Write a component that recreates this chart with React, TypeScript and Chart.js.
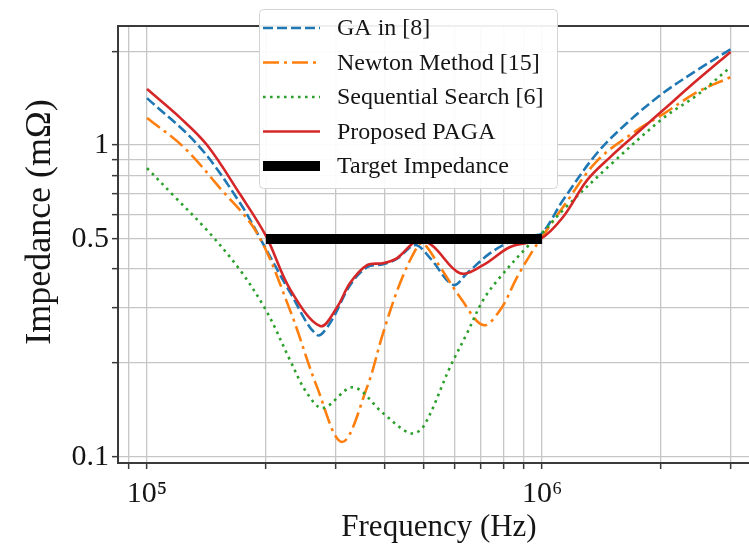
import React, { useEffect, useRef } from 'react';
import { Chart, registerables } from 'chart.js';

Chart.register(...registerables);

// ---- data (frequency in Hz, impedance in mΩ) ----
const gaFreq = [1.0e5, 1.346e5, 1.72e5, 1.955e5, 2.3e5, 2.694e5, 2.906e5, 3.265e5, 3.606e5, 3.958e5, 4.296e5, 4.77e5, 5.206e5, 5.953e5, 6.458e5, 7.386e5, 8.299e5, 9.33e5, 1.0e6, 1.13e6, 1.378e6, 1.671e6, 2.025e6, 2.469e6, 3.0e6];
const gaImp = [1.415, 1.0, 0.652, 0.489, 0.3375, 0.246, 0.2685, 0.355, 0.406, 0.415, 0.432, 0.478, 0.434, 0.356, 0.388, 0.45, 0.489, 0.511, 0.522, 0.666, 0.943, 1.203, 1.469, 1.74, 2.03];

const newtonFreq = [1.0e5, 1.233e5, 1.53e5, 1.899e5, 2.301e5, 2.694e5, 3.117e5, 3.606e5, 3.958e5, 4.371e5, 4.825e5, 5.0e5, 5.518e5, 6.2e5, 7.09e5, 7.829e5, 8.645e5, 9.488e5, 1.0e6, 1.13e6, 1.378e6, 1.74e6, 2.025e6, 2.469e6, 3.0e6];
const newtonImp = [1.221, 0.99, 0.728, 0.522, 0.2955, 0.1673, 0.1115, 0.1673, 0.2493, 0.361, 0.471, 0.485, 0.406, 0.325, 0.2645, 0.2955, 0.377, 0.46, 0.507, 0.633, 0.89, 1.117, 1.257, 1.479, 1.652];

const seqFreq = [1.0e5, 1.164e5, 1.419e5, 1.72e5, 2.013e5, 2.301e5, 2.541e5, 2.79e5, 3.323e5, 3.958e5, 4.633e5, 4.997e5, 5.849e5, 6.458e5, 7.09e5, 7.829e5, 9.163e5, 1.0e6, 1.13e6, 1.487e6, 2.025e6, 2.469e6, 3.0e6];
const seqImp = [0.844, 0.691, 0.533, 0.397, 0.291, 0.2043, 0.16, 0.1433, 0.167, 0.138, 0.1191, 0.1245, 0.194, 0.2493, 0.318, 0.377, 0.471, 0.522, 0.619, 0.863, 1.22, 1.447, 1.78];

const pagaFreq = [1.0e5, 1.212e5, 1.419e5, 1.72e5, 2.0e5, 2.301e5, 2.742e5, 3.027e5, 3.265e5, 3.606e5, 3.958e5, 4.296e5, 4.714e5, 4.911e5, 5.298e5, 6.2e5, 7.09e5, 8.299e5, 9.883e5, 1.13e6, 1.3e6, 1.487e6, 1.74e6, 2.025e6, 2.469e6, 3.0e6];
const pagaImp = [1.512, 1.225, 1.0, 0.695, 0.511, 0.345, 0.2626, 0.302, 0.361, 0.412, 0.418, 0.434, 0.485, 0.496, 0.474, 0.388, 0.412, 0.471, 0.499, 0.588, 0.772, 0.915, 1.093, 1.295, 1.616, 1.99];

const targetFreq = [2.0e5, 1.0e6];
const targetImp = [0.5, 0.5];

const seriesLabels = ['GA in [8]', 'Newton Method [15]', 'Sequential Search [6]', 'Proposed PAGA', 'Target Impedance'];

const xTickValues = [9e4, 1e5, 2e5, 3e5, 4e5, 5e5, 6e5, 7e5, 8e5, 9e5, 1e6, 2e6, 3e6];
const xTickText = [['1e5', '10\u2075'], ['1e6', '10\u2076']];
const yTickValues = [0.1, 0.2, 0.3, 0.4, 0.5, 0.6, 0.7, 0.8, 0.9, 1, 2];
const yTickText = [['0.1', '0.1'], ['0.5', '0.5'], ['1', '1']];

const X_MIN = 84450;
const X_MAX = 3.56e6;
const Y_MIN = 0.0955;
const Y_MAX = 2.41;

const FONT = '"Liberation Serif", "Times New Roman", serif';

function labelFor(table: string[][], v: number): string {
  for (const [k, t] of table) {
    const n = Number(k);
    if (Math.abs(n - v) / n < 1e-6) return t;
  }
  return '';
}

function pts(xs: number[], ys: number[]) {
  return xs.map((x, i) => ({ x, y: ys[i] }));
}

const overlayPlugin = {
  id: 'overlay',
  afterDraw(chart: any) {
    const ctx = chart.ctx as CanvasRenderingContext2D;
    const { left, right, top } = chart.chartArea;
    ctx.save();
    // top spine
    ctx.strokeStyle = '#3a3a3a';
    ctx.lineWidth = 2;
    ctx.setLineDash([]);
    ctx.beginPath();
    ctx.moveTo(left, top);
    ctx.lineTo(right, top);
    ctx.stroke();

    // legend box
    const bx = 259.5, by = 9.5, bw = 298, bh = 179;
    ctx.beginPath();
    (ctx as any).roundRect(bx, by, bw, bh, 4);
    ctx.fillStyle = 'rgba(255,255,255,0.92)';
    ctx.fill();
    ctx.strokeStyle = '#d4d4d4';
    ctx.lineWidth = 1;
    ctx.stroke();

    const rows = [28, 62.5, 97, 131.5, 166];
    chart.data.datasets.forEach((ds: any, i: number) => {
      const y = rows[i];
      ctx.save();
      ctx.strokeStyle = ds.borderColor;
      ctx.lineWidth = ds.borderWidth;
      ctx.lineCap = 'butt';
      ctx.setLineDash(ds.borderDash || []);
      ctx.beginPath();
      ctx.moveTo(263, y);
      ctx.lineTo(320, y);
      ctx.stroke();
      ctx.restore();
      ctx.fillStyle = '#151515';
      ctx.font = '24px ' + FONT;
      ctx.textAlign = 'left';
      ctx.textBaseline = 'middle';
      ctx.fillText(ds.label, 337, y + 1);
    });

    // y-axis title
    ctx.translate(41, 222);
    ctx.rotate(-Math.PI / 2);
    ctx.font = '36px ' + FONT;
    ctx.fillStyle = '#151515';
    ctx.textAlign = 'center';
    ctx.textBaseline = 'middle';
    ctx.fillText('Impedance (m\u03A9)', 0, 0);
    ctx.restore();
  },
};

export default function App() {
  const ref = useRef<HTMLCanvasElement | null>(null);

  useEffect(() => {
    if (!ref.current) return;
    const gridCfg = {
      color: '#c6c6c6',
      lineWidth: 1.3,
      tickColor: '#3a3a3a',
      tickLength: 6,
      tickWidth: 1.5,
    };
    const borderCfg = { display: true, color: '#3a3a3a', width: 2 };
    const chart = new Chart(ref.current, {
      type: 'line',
      data: {
        datasets: [
          { label: seriesLabels[0], data: pts(gaFreq, gaImp), borderColor: '#1f77b4', borderWidth: 2.6, borderDash: [10, 4], order: 5 },
          { label: seriesLabels[1], data: pts(newtonFreq, newtonImp), borderColor: '#ff7f0e', borderWidth: 2.6, borderDash: [16, 5, 3, 5], order: 4 },
          { label: seriesLabels[2], data: pts(seqFreq, seqImp), borderColor: '#2ca02c', borderWidth: 2.6, borderDash: [2.6, 4.4], order: 3 },
          { label: seriesLabels[3], data: pts(pagaFreq, pagaImp), borderColor: '#d62728', borderWidth: 2.6, borderDash: [], order: 2 },
          { label: seriesLabels[4], data: pts(targetFreq, targetImp), borderColor: '#000000', borderWidth: 10, borderDash: [], order: 1, borderCapStyle: 'butt', tension: 0 },
        ] as any,
      },
      options: {
        responsive: false,
        animation: false,
        events: [],
        layout: { padding: { top: 26, left: 0, right: 0, bottom: 0 } },
        elements: {
          point: { radius: 0 },
          line: { tension: 0.35, fill: false, borderCapStyle: 'butt' },
        },
        plugins: { legend: { display: false }, tooltip: { enabled: false } },
        scales: {
          x: {
            type: 'logarithmic',
            min: X_MIN,
            max: X_MAX,
            afterBuildTicks: (s: any) => { s.ticks = xTickValues.map((v) => ({ value: v })); },
            afterFit: (s: any) => { s.height = 89; },
            grid: gridCfg,
            border: borderCfg,
            ticks: {
              autoSkip: false,
              maxRotation: 0,
              minRotation: 0,
              padding: 7,
              color: '#151515',
              font: { family: FONT, size: 30 },
              callback: (v: any) => labelFor(xTickText, Number(v)),
            },
            title: {
              display: true,
              text: 'Frequency (Hz)',
              color: '#151515',
              font: { family: FONT, size: 31 },
              padding: { top: 0, bottom: 6 },
            },
          },
          y: {
            type: 'logarithmic',
            min: Y_MIN,
            max: Y_MAX,
            afterBuildTicks: (s: any) => { s.ticks = yTickValues.map((v) => ({ value: v })); },
            afterFit: (s: any) => { s.width = 118; },
            grid: gridCfg,
            border: borderCfg,
            ticks: {
              autoSkip: false,
              padding: 3,
              color: '#151515',
              font: { family: FONT, size: 30 },
              callback: (v: any) => labelFor(yTickText, Number(v)),
            },
          },
        },
      } as any,
      plugins: [overlayPlugin],
    });
    return () => chart.destroy();
  }, []);

  return (
    <div style={{ position: 'absolute', left: 0, top: 0, width: 749, height: 552, overflow: 'hidden', background: '#ffffff' }}>
      <canvas ref={ref} width={760} height={552} style={{ display: 'block' }} />
    </div>
  );
}
